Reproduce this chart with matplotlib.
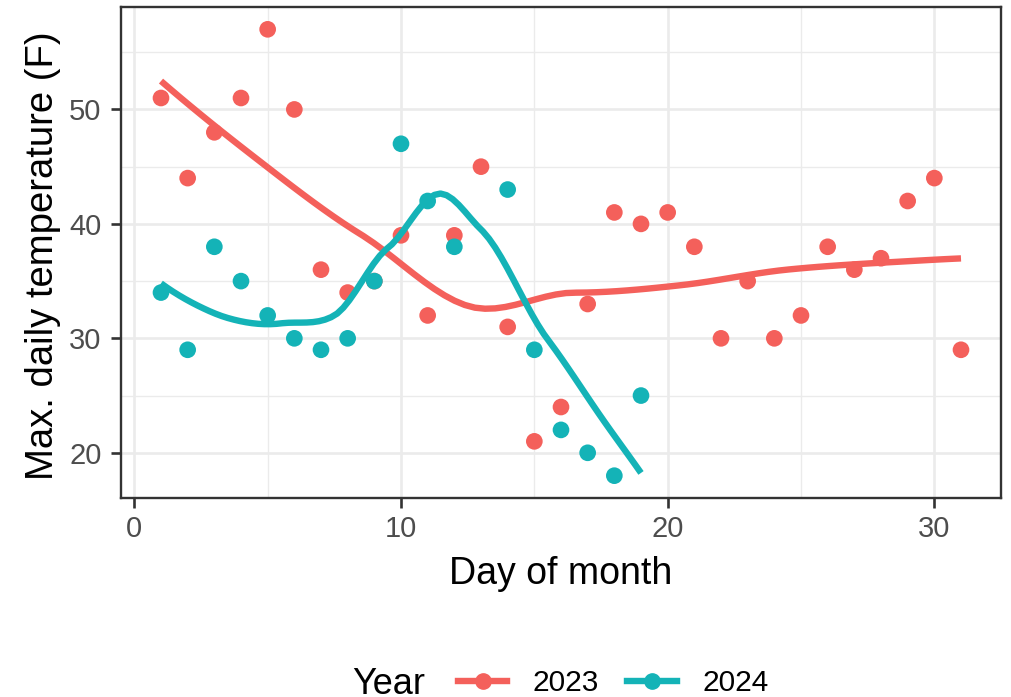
import numpy as np
import matplotlib
matplotlib.use("Agg")
import matplotlib.pyplot as plt
from matplotlib.lines import Line2D
from matplotlib.transforms import Affine2D

plt.rcParams['font.family'] = ['Liberation Sans', 'DejaVu Sans']

days_2023 = list(range(1, 32))
temp_2023 = [51, 44, 48, 51, 57, 50, 36, 34, 35, 39, 32, 39, 45, 31, 21, 24, 33,
             41, 40, 41, 38, 30, 35, 30, 32, 38, 36, 37, 42, 44, 29]
days_2024 = [1, 2, 3, 4, 5, 6, 7, 8, 9, 10, 11, 12, 14, 15, 16, 17, 18, 19]
temp_2024 = [34, 29, 38, 35, 32, 30, 29, 30, 35, 47, 42, 38, 43, 29, 22, 20, 18, 25]
years = ["2023", "2024"]
colors = ["#F4605B", "#14B3B7"]


def local_fit(x, y, x0, q):
    d = np.abs(x - x0)
    h = np.sort(d)[q - 1]
    u = np.clip(d / h, 0, 1)
    w = (1 - u ** 3) ** 3
    X = np.vstack([np.ones_like(x), x - x0, (x - x0) ** 2]).T
    A = X.T @ (w[:, None] * X)
    b = X.T @ (w * y)
    beta = np.linalg.lstsq(A, b, rcond=None)[0]
    return beta[0], beta[1]


def loess(x, y, xs, span=0.75, cell=0.2):
    """Quadratic loess with R-style kd-tree vertices and cubic Hermite interpolation."""
    x = np.asarray(x, float); y = np.asarray(y, float)
    n = len(x); q = int(np.floor(n * span))
    fc = int(np.floor(n * span * cell))
    xsort = np.sort(x)
    lo, hi = xsort[0], xsort[-1]
    margin = 0.005 * (hi - lo)
    verts = {lo - margin, hi + margin}

    def split(l, u):
        if (u - l + 1) <= fc:
            return
        m = (l + u) // 2
        if m + 1 > u:
            return
        v = 0.5 * (xsort[m] + xsort[m + 1])
        verts.add(v)
        split(l, m)
        split(m + 1, u)

    split(0, n - 1)
    vs = np.array(sorted(verts))
    fits = [local_fit(x, y, v, q) for v in vs]
    fv = np.array([f[0] for f in fits]); sv = np.array([f[1] for f in fits])
    out = []
    for xx in xs:
        i = int(np.clip(np.searchsorted(vs, xx) - 1, 0, len(vs) - 2))
        h = vs[i + 1] - vs[i]
        t = (xx - vs[i]) / h
        p0 = (1 - t) ** 2 * (1 + 2 * t); p1 = t ** 2 * (3 - 2 * t)
        s0 = t * (1 - t) ** 2; s1 = -t ** 2 * (1 - t)
        out.append(p0 * fv[i] + p1 * fv[i + 1] + (s0 * sv[i] + s1 * sv[i + 1]) * h)
    return np.array(out)


W, H = 1011, 697
fig = plt.figure(figsize=(W / 100, H / 100), dpi=100)
left, right, top, bottom = 121, 1001, 7, 498
ax = fig.add_axes([left / W, 1 - bottom / H, (right - left) / W, (bottom - top) / H])

ax.set_xlim(-0.5, 32.5)
ax.set_ylim(16.05, 58.95)
ax.set_xticks([0, 10, 20, 30])
ax.set_yticks([20, 30, 40, 50])
ax.set_xticks([5, 15, 25], minor=True)
ax.set_yticks([25, 35, 45, 55], minor=True)
ax.grid(True, which='major', color='#EBEBEB', linewidth=1.9, zorder=0)
ax.grid(True, which='minor', color='#EBEBEB', linewidth=1.0, zorder=0)
ax.set_axisbelow(True)
for s in ax.spines.values():
    s.set_color('#333333'); s.set_linewidth(1.7)
ax.tick_params(which='major', length=7, width=1.9, color='#333333',
               labelsize=21, labelcolor='#4D4D4D')
ax.tick_params(axis='y', which='major', pad=7)
ax.tick_params(axis='x', which='major', pad=5)
ax.tick_params(which='minor', length=0)

for d, t, c in [(days_2023, temp_2023, colors[0]), (days_2024, temp_2024, colors[1])]:
    ax.scatter(d, t, s=144, color=c, edgecolors='none', zorder=3)
for d, t, c in [(days_2023, temp_2023, colors[0]), (days_2024, temp_2024, colors[1])]:
    xs = np.linspace(min(d), max(d), 80)
    ax.plot(xs, loess(d, t, xs), color=c, linewidth=4.6, zorder=4, solid_capstyle='butt')

pix = Affine2D().scale(1, -1).translate(0, H)
ax.set_xlabel("Day of month", fontsize=27, va='baseline')
ax.set_ylabel("Max. daily temperature (F)", fontsize=27.5, va='center')
ax.xaxis.set_label_coords(561, 584, transform=pix)
ax.yaxis.set_label_coords(43, 256, transform=pix)

handles = [Line2D([0], [0], color=c, linewidth=4.6, marker='o', markersize=11) for c in colors]
fig.text(352 / W, 1 - 694 / H, "Year", fontsize=26, va='baseline', ha='left')
fig.legend(handles, years, loc='center left', bbox_to_anchor=(458 / W, 1 - 683 / H),
           ncol=2, frameon=False, fontsize=21.5, handlelength=1.65, handletextpad=0.85,
           columnspacing=0.95, borderaxespad=0, borderpad=0)

fig.savefig("out.png", dpi=100)
